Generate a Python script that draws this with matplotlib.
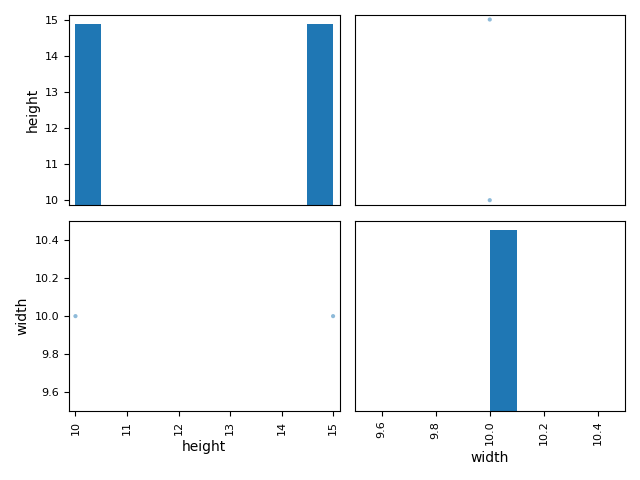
import pandas as pd
import matplotlib
matplotlib.use("Agg")
import matplotlib.pyplot as plt
from pandas.plotting import scatter_matrix

height = [10, 15]
width = [10, 10]

df = pd.DataFrame({"height": height, "width": width})

fig, ax = plt.subplots(2, 2, figsize=(6.4, 4.8))
scatter_matrix(df, ax=ax, alpha=0.5, s=80 if False else None) if False else scatter_matrix(df, ax=ax)
plt.tight_layout()
plt.savefig("out.png", dpi=100)
